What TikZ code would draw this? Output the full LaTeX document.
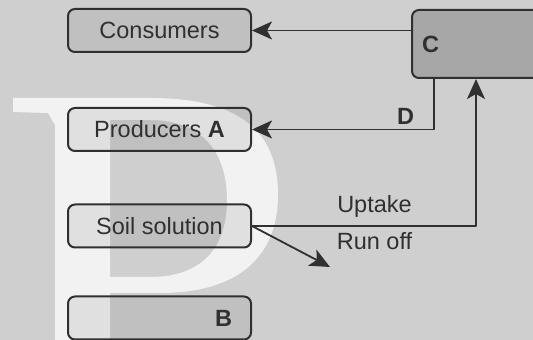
\documentclass[tikz,border=0pt]{standalone}
\usepackage{fontspec}
\setmainfont{Liberation Sans}
\usetikzlibrary{arrows.meta}

\definecolor{paper}{HTML}{CFCFCF}
\definecolor{ink}{HTML}{303030}
\definecolor{darkbox}{HTML}{A7A7A7}

\begin{document}
\begin{tikzpicture}[x=1pt, y=1pt, line width=1.5pt, line cap=round, line join=round,
  font=\fontsize{23.5}{28}\selectfont, color=ink,
  box/.style={draw=ink, line width=2pt, rounded corners=7pt, fill=black,
    fill opacity=0.07, text opacity=1, minimum width=183pt, minimum height=43pt,
    inner sep=0pt, text height=16.8pt, text depth=0pt},
  flow/.style={draw=ink, line width=1.8pt, -{Stealth[length=20pt, width=18pt, inset=5pt]}}]
  % page
  \clip (0,0) rectangle (533,340);
  \fill[paper] (0,0) rectangle (533,340);
  % faint logo behind the boxes
  \fill[white, opacity=0.75, even odd rule] (13,242) -- (150,242)
    .. controls (250,242) and (278,200) .. (278,145)
    .. controls (278,85) and (240,47) .. (160,47)
    -- (110,47) -- (110,0) -- (55,0) -- (55,215) -- (48,227) -- (13,228) -- cycle
    (110,220) -- (150,220)
    .. controls (205,220) and (227,185) .. (227,140)
    .. controls (227,90) and (200,63) .. (150,63)
    -- (110,63) -- cycle;
  % pools
  \node[box] (consumers) at (159.5,309.5) {Consumers};
  \node[box] (producers) at (159.5,210.5) {Producers \textbf{A}};
  \node[box] (soil) at (159.5,114) {Soil solution};
  \node[box, text width=145pt, align=right] (b) at (159.5,22) {\textbf{B}};
  \node[draw=ink, line width=2pt, rounded corners=7pt, fill=darkbox, anchor=south west,
    minimum width=150pt, minimum height=68pt, text width=130pt, inner xsep=10pt,
    align=left] (c) at (411,261) {\textbf{C}};
  % fluxes
  \draw[flow] (consumers.east -| c.west) -- (consumers.east);
  \draw[flow] ([xshift=23pt]c.south west) |- node[pos=0.5, anchor=south east,
    xshift=-17pt, yshift=2pt, inner sep=2pt] (dlabel) {\textbf{D}} (producers.east);
  \draw[flow] (soil.east) -| ([xshift=65pt]c.south west);
  \coordinate (runend) at (330,73);
  \draw[flow] (soil.east) -- (runend);
  \node[anchor=base] (uptake) at (374.5,127.3) {Uptake};
  \node[anchor=base] (runoff) at (374.5,90) {Run off};
\end{tikzpicture}
\end{document}
